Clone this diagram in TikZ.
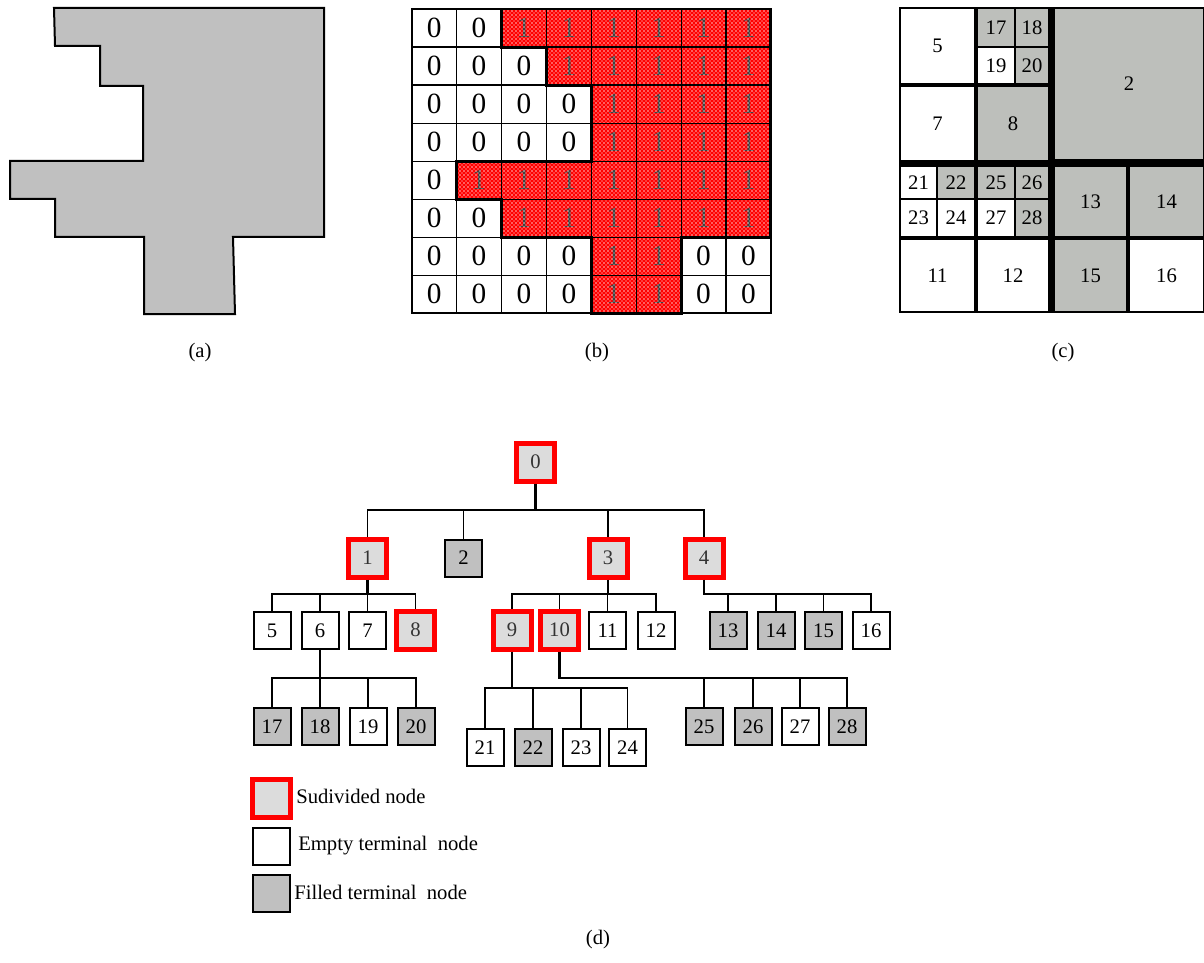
\documentclass[tikz,border=0pt]{standalone}
\usepackage{fontspec}
\setmainfont{Liberation Serif}
\usetikzlibrary{patterns}
\definecolor{fillgray}{HTML}{C0C0C0}
\definecolor{subgray}{HTML}{DCDCDC}
\definecolor{qgray}{HTML}{BDBFBB}
\newcommand\qcell[7]{\fill[#6] (#2,#3) rectangle (#4,#5); \node[qnum] (#1) at ({(#2+#4)/2},{(#3+#5)/2}) {#7};}
\begin{document}
\begin{tikzpicture}[x=0.75pt,y=-0.75pt,
  lbl/.style={font=\fontsize{15.5}{18}\selectfont, inner sep=0pt},
  bnum/.style={font=\fontsize{22}{24}\selectfont, inner sep=0pt},
  qnum/.style={font=\fontsize{15.5}{18}\selectfont, inner sep=0pt},
  tnode/.style={draw=black, line width=1.5pt, minimum size=27.75pt, inner sep=0pt, font=\fontsize{15.5}{18}\selectfont},
  emptyn/.style={tnode, fill=white},
  filledn/.style={tnode, fill=fillgray},
  subn/.style={tnode, draw=red, fill=subgray, line width=3.75pt, minimum size=28.5pt, text=black!80},
  conn/.style={line width=1.2pt},
  stemline/.style={line width=2pt},
]
\useasboundingbox (0,0) rectangle (1204,963);

% ---------- (a) ----------
\draw[fill=fillgray, line width=1.5pt, line join=miter] (54,8) -- (324,8) -- (324,237) -- (233,237) -- (235,314) -- (144,314) -- (144,237) -- (55,237) -- (55,199) -- (10,199) -- (10,161) -- (143,161) -- (143,86) -- (100,86) -- (100,46) -- (55,46) -- cycle;
\node[lbl] (la) at (200,353) {(a)};

% ---------- (b) ----------
\foreach \i in {0,...,8} {
  \foreach \j in {0,...,8} {
    \coordinate (g\i-\j) at ({411.7+44.9*\i},{9+38.04*\j});
  }
}
\foreach \r/\a/\b in {0/2/7,1/3/7,2/4/7,3/4/7,4/1/7,5/2/7,6/4/5,7/4/5} {
  \foreach \c in {0,...,7} {
    \pgfmathsetmacro\cx{411.7+44.9*\c+22.45}
    \pgfmathsetmacro\cy{9+38.04*\r+19.02}
    \ifnum\c<\a\relax
      \node[bnum] (b\r-\c) at (\cx,\cy) {0};
    \else\ifnum\c>\b\relax
      \node[bnum] (b\r-\c) at (\cx,\cy) {0};
    \else
      \fill[red] ({\cx-22.45},{\cy-19.02}) rectangle ({\cx+22.45},{\cy+19.02});
      \node[bnum, text=black!75] (b\r-\c) at (\cx,\cy) {1};
      \fill[pattern=crosshatch dots, pattern color=white] ({\cx-22.45},{\cy-19.02}) rectangle ({\cx+22.45},{\cy+19.02});
      \fill[pattern=dots, pattern color=white!85!red] ({\cx-22.45},{\cy-19.02}) rectangle ({\cx+22.45},{\cy+19.02});
    \fi\fi
  }
}
\foreach \i in {0,...,8} {
  \draw[line width=0.9pt] (g\i-0) -- (g\i-8);
  \draw[line width=0.9pt] (g0-\i) -- (g8-\i);
}
\draw[line width=1.5pt] (g0-0) rectangle (g8-8);
\draw[line width=2.2pt, line join=miter] (g2-0) -- (g8-0) -- (g8-6) -- (g6-6) -- (g6-8) -- (g4-8) -- (g4-6) -- (g2-6) -- (g2-5) -- (g1-5) -- (g1-4) -- (g4-4) -- (g4-2) -- (g3-2) -- (g3-1) -- (g2-1) -- cycle;
\node[lbl] (lb) at (597,353) {(b)};

% ---------- (c) ----------
\fill[black] (899,7) rectangle (1204,313);
\qcell{q5}{901}{9}{974}{83}{white}{5}
\qcell{q17}{978}{9}{1014}{46}{qgray}{17}
\qcell{q18}{1016}{9}{1048}{46}{qgray}{18}
\qcell{q19}{978}{48}{1014}{83}{white}{19}
\qcell{q20}{1016}{48}{1048}{83}{qgray}{20}
\qcell{q7}{901}{87}{974}{160}{white}{7}
\qcell{q8}{978}{87}{1048}{160}{qgray}{8}
\qcell{q2}{1055}{9}{1203}{159}{qgray}{2}
\qcell{q21}{901}{167}{936}{198}{white}{21}
\qcell{q22}{938}{167}{974}{198}{qgray}{22}
\qcell{q23}{901}{200}{936}{236}{white}{23}
\qcell{q24}{938}{200}{974}{236}{white}{24}
\qcell{q25}{978}{167}{1014}{198}{qgray}{25}
\qcell{q26}{1016}{167}{1048}{198}{qgray}{26}
\qcell{q27}{978}{200}{1014}{236}{white}{27}
\qcell{q28}{1016}{200}{1048}{236}{qgray}{28}
\qcell{q11}{901}{240}{974}{311}{white}{11}
\qcell{q12}{978}{240}{1048}{311}{white}{12}
\qcell{q13}{1055}{167}{1126}{236}{qgray}{13}
\qcell{q14}{1130}{167}{1203}{236}{qgray}{14}
\qcell{q15}{1055}{240}{1126}{311}{qgray}{15}
\qcell{q16}{1130}{240}{1203}{311}{white}{16}
\node[lbl] (lc) at (1063,353) {(c)};

% ---------- (d) tree ----------
\node[subn] (n0) at (535.5,462) {0};
\node[subn] (n1) at (367.5,558) {1};
\node[filledn] (n2) at (463.5,558) {2};
\node[subn] (n3) at (608,558) {3};
\node[subn] (n4) at (704,558) {4};
\node[emptyn] (n5) at (272,630.5) {5};
\node[emptyn] (n6) at (320,630.5) {6};
\node[emptyn] (n7) at (367.5,630.5) {7};
\node[subn] (n8) at (415.5,630) {8};
\node[subn] (n9) at (512,630) {9};
\node[subn] (n10) at (559.5,630) {10};
\node[emptyn] (n11) at (607.5,630.5) {11};
\node[emptyn] (n12) at (656,630.5) {12};
\node[filledn] (n13) at (728,630.5) {13};
\node[filledn] (n14) at (776,630.5) {14};
\node[filledn] (n15) at (823.5,630.5) {15};
\node[emptyn] (n16) at (871,630.5) {16};
\node[filledn] (n17) at (272,726.5) {17};
\node[filledn] (n18) at (320,726.5) {18};
\node[emptyn] (n19) at (368,726.5) {19};
\node[filledn] (n20) at (416,726.5) {20};
\node[emptyn] (n21) at (485,747.5) {21};
\node[filledn] (n22) at (533,747.5) {22};
\node[emptyn] (n23) at (581,747.5) {23};
\node[emptyn] (n24) at (627.5,747.5) {24};
\node[filledn] (n25) at (704,726.5) {25};
\node[filledn] (n26) at (753,726.5) {26};
\node[emptyn] (n27) at (800,726.5) {27};
\node[filledn] (n28) at (847,726.5) {28};

\coordinate (y0) at (0,510);
\coordinate (y1) at (0,594);
\coordinate (y6) at (0,678);
\coordinate (y9) at (0,688);

% root
\draw[stemline] (n0.south) -- (n0.south |- y0);
\draw[conn] (n1.north) |- (n4.north |- y0) -- (n4.north);
\draw[stemline] (n2.north |- y0) -- (n3.north |- y0);
\draw[conn] (n2.north) -- (n2.north |- y0);
\draw[conn] (n3.north) -- (n3.north |- y0);
% node 1
\draw[stemline] (n1.south) -- (n1.south |- y1);
\draw[conn] (n5.north) |- (n8.north |- y1) -- (n8.north);
\draw[conn] (n6.north) -- (n6.north |- y1);
\draw[conn] (n7.north) -- (n7.north |- y1);
% node 3
\draw[stemline] (n3.south) -- (n3.south |- y1);
\draw[conn] (n9.north) |- (n12.north |- y1) -- (n12.north);
\draw[conn] (n10.north) -- (n10.north |- y1);
\draw[conn] (n11.north) -- (n11.north |- y1);
% node 4
\draw[stemline] (n4.south) |- (n14.north |- y1);
\draw[conn] (n14.north |- y1) -- (n16.north |- y1) -- (n16.north);
\draw[conn] (n13.north) -- (n13.north |- y1);
\draw[conn] (n14.north) -- (n14.north |- y1);
\draw[conn] (n15.north) -- (n15.north |- y1);
% node 6
\draw[stemline] (n6.south) -- (n6.south |- y6);
\draw[conn] (n17.north) |- (n20.north |- y6) -- (n20.north);
\draw[conn] (n18.north) -- (n18.north |- y6);
\draw[conn] (n19.north) -- (n19.north |- y6);
% node 9
\draw[stemline] (n9.south) -- (n9.south |- y9);
\draw[conn] (n21.north) |- (n24.north |- y9) -- (n24.north);
\draw[conn] (n22.north) -- (n22.north |- y9);
\draw[conn] (n23.north) -- (n23.north |- y9);
% node 10
\draw[stemline] (n10.south) |- (n25.north |- y6);
\draw[conn] (n25.north |- y6) -- (n28.north |- y6) -- (n28.north);
\draw[conn] (n25.north) -- (n25.north |- y6);
\draw[conn] (n26.north) -- (n26.north |- y6);
\draw[conn] (n27.north) -- (n27.north |- y6);

% legend
\node[subn] (k1) at (271.5,798) {};
\node[lbl, anchor=west] (t1) at (296,796) {Sudivided node};
\node[emptyn] (k2) at (271.5,846.5) {};
\node[lbl, anchor=west] (t2) at (298,846) {Empty terminal\ \ node};
\node[filledn] (k3) at (271.5,893.5) {};
\node[lbl, anchor=west] (t3) at (294,892) {Filled terminal\ \ node};

\node[lbl] (ld) at (598,940) {(d)};
\end{tikzpicture}
\end{document}
